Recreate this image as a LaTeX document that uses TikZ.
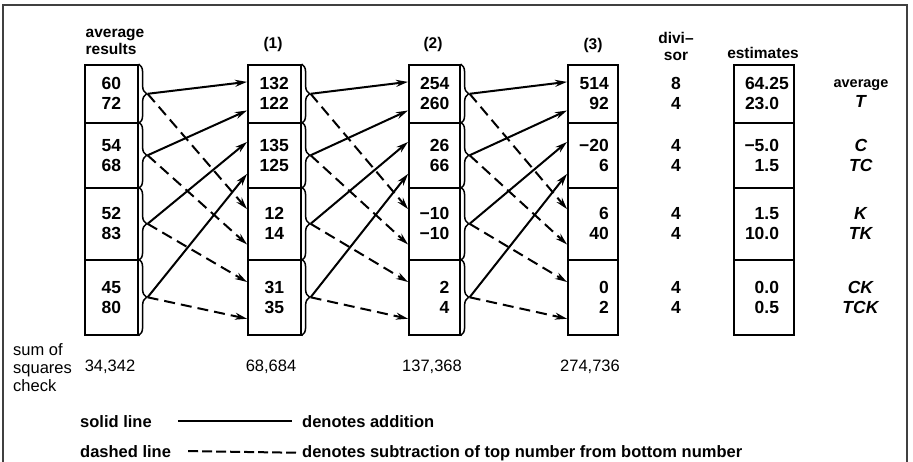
\documentclass[tikz,border=0pt]{standalone}
\usepackage{fontspec}
\setmainfont{Liberation Sans}
\usetikzlibrary{arrows.meta, calc, decorations.pathreplacing}

\tikzset{
    grp/.style={draw, line width=1.6pt, inner sep=0pt, anchor=north west,
        font=\bfseries\fontsize{17.5}{20}\selectfont},
    hdr/.style={font=\bfseries\fontsize{15.5}{17}\selectfont, inner sep=0pt},
    num/.style={font=\bfseries\fontsize{17.5}{20}\selectfont, align=center, inner sep=0pt},
    chk/.style={font=\fontsize{16.5}{18}\selectfont, inner sep=0pt},
    leg/.style={font=\bfseries\fontsize{16.5}{18}\selectfont, inner sep=0pt, anchor=base west},
    brc/.style={line width=1.5pt, decorate, decoration={brace, amplitude=8pt}},
    sumarr/.style={line width=2pt, -{Stealth[length=12pt, width=7pt]}},
    difarr/.style={sumarr, dash pattern=on 11pt off 6pt},
}

\begin{document}
\begin{tikzpicture}[x=1pt, y=-1pt]
    \clip (0,0) rectangle (913,462);
    \draw[line width=1.5pt, black!75] (3,5) rectangle (907,495);

    % column headers
    \node[hdr, align=left] (avg) at (115,42) {average\\results};
    \node[hdr] (h1) at (273,44) {(1)};
    \node[hdr] (h2) at (433,44) {(2)};
    \node[hdr] (h3) at (593,45) {(3)};
    \node[hdr, align=center] (dvh) at (676,46) {divi–\\sor};
    \node[hdr] (esth) at (763,53) {estimates};

    % the four columns of pairs
    \foreach \g/\t/\h/\txt in {1/64/58/{60\\72}, 2/122/65/{54\\68}, 3/187/72/{52\\83}, 4/259/75/{45\\80}}
        \node[grp, minimum width=53pt, minimum height=\h pt, text width=34pt, align=center] (c0-\g) at (84,\t) {\txt};
    \foreach \g/\t/\h/\txt in {1/64/58/{132\\122}, 2/122/65/{135\\125}, 3/187/72/{12\\14}, 4/259/75/{31\\35}}
        \node[grp, minimum width=53pt, minimum height=\h pt, text width=34pt, align=center] (c1-\g) at (247,\t) {\txt};
    \foreach \g/\t/\h/\txt in {1/64/58/{254\\260}, 2/122/65/{26\\66}, 3/187/72/{−10\\−10}, 4/259/75/{2\\4}}
        \node[grp, minimum width=51pt, minimum height=\h pt, text width=30pt, align=right] (c2-\g) at (408,\t) {\txt};
    \foreach \g/\t/\h/\txt in {1/64/58/{514\\92}, 2/122/65/{−20\\6}, 3/187/72/{6\\40}, 4/259/75/{0\\2}}
        \node[grp, minimum width=50pt, minimum height=\h pt, text width=32pt, align=right] (c3-\g) at (567,\t) {\txt};
    \foreach \g/\t/\h/\txt in {1/64/58/{64.25\\23.0\phantom{5}}, 2/122/65/{−5.0\phantom{5}\\1.5\phantom{5}},
            3/187/72/{1.5\phantom{5}\\10.0\phantom{5}}, 4/259/75/{0.0\phantom{5}\\0.5\phantom{5}}}
        \node[grp, minimum width=60pt, minimum height=\h pt, text width=50pt, align=right] (est-\g) at (733,\t) {\txt};

    % divisors and effects
    \coordinate (dvx) at (676,0);
    \coordinate (efx) at (861,0);
    \foreach \g/\dv/\ef in {1/{8\\4}/{{\fontsize{14.5}{20}\selectfont average}\\\textit{T}}, 2/{4\\4}/{\textit{C}\\\textit{TC}},
            3/{4\\4}/{\textit{K}\\\textit{TK}}, 4/{4\\4}/{\textit{CK}\\\textit{TCK}}}{
        \node[num] (dv-\g) at (c3-\g -| dvx) {\dv};
        \node[num] (ef-\g) at (c3-\g -| efx) {\ef};
    }

    % braces and connectors
    \foreach \c in {0,1,2}{
        \pgfmathtruncatemacro\nx{\c+1}
        \foreach \g in {1,...,4}{
            \pgfmathtruncatemacro\sbx{ceil(\g/2)}
            \pgfmathtruncatemacro\dbx{\sbx+2}
            \pgfmathsetmacro\fr{ifthenelse(mod(\g,2)==1,0.3,0.78)}
            \draw[brc] (c\c-\g.north east) -- (c\c-\g.south east);
            \coordinate (t\c-\g) at ($(c\c-\g.east)+(9,0)$);
            \draw[sumarr] (t\c-\g) -- ($(c\nx-\sbx.north west)!\fr!(c\nx-\sbx.south west)$);
            \draw[difarr] (t\c-\g) -- ($(c\nx-\dbx.north west)!\fr!(c\nx-\dbx.south west)$);
        }
    }

    % sum of squares check
    \node[chk, align=left, anchor=west] (sq) at (13,368) {sum of\\squares\\check};
    \node[chk] (chk0) at (110,367) {34,342};
    \node[chk] (chk1) at (271,367) {68,684};
    \node[chk] (chk2) at (432,367) {137,368};
    \node[chk] (chk3) at (590,367) {274,736};

    % legend
    \node[leg] (sol) at (80,427) {solid line};
    \node[leg] (add) at (302,427) {denotes addition};
    \draw[line width=2pt] ([xshift=26pt]sol.east) -- ([xshift=-10pt]add.west);
    \node[leg] (dsh) at (80,457) {dashed line};
    \node[leg] (sub) at (302,457) {denotes subtraction of top number from bottom number};
    \draw[line width=2pt, dash pattern=on 10pt off 4pt] ([xshift=17pt]dsh.east) -- ([xshift=-6pt]sub.west);
\end{tikzpicture}
\end{document}
